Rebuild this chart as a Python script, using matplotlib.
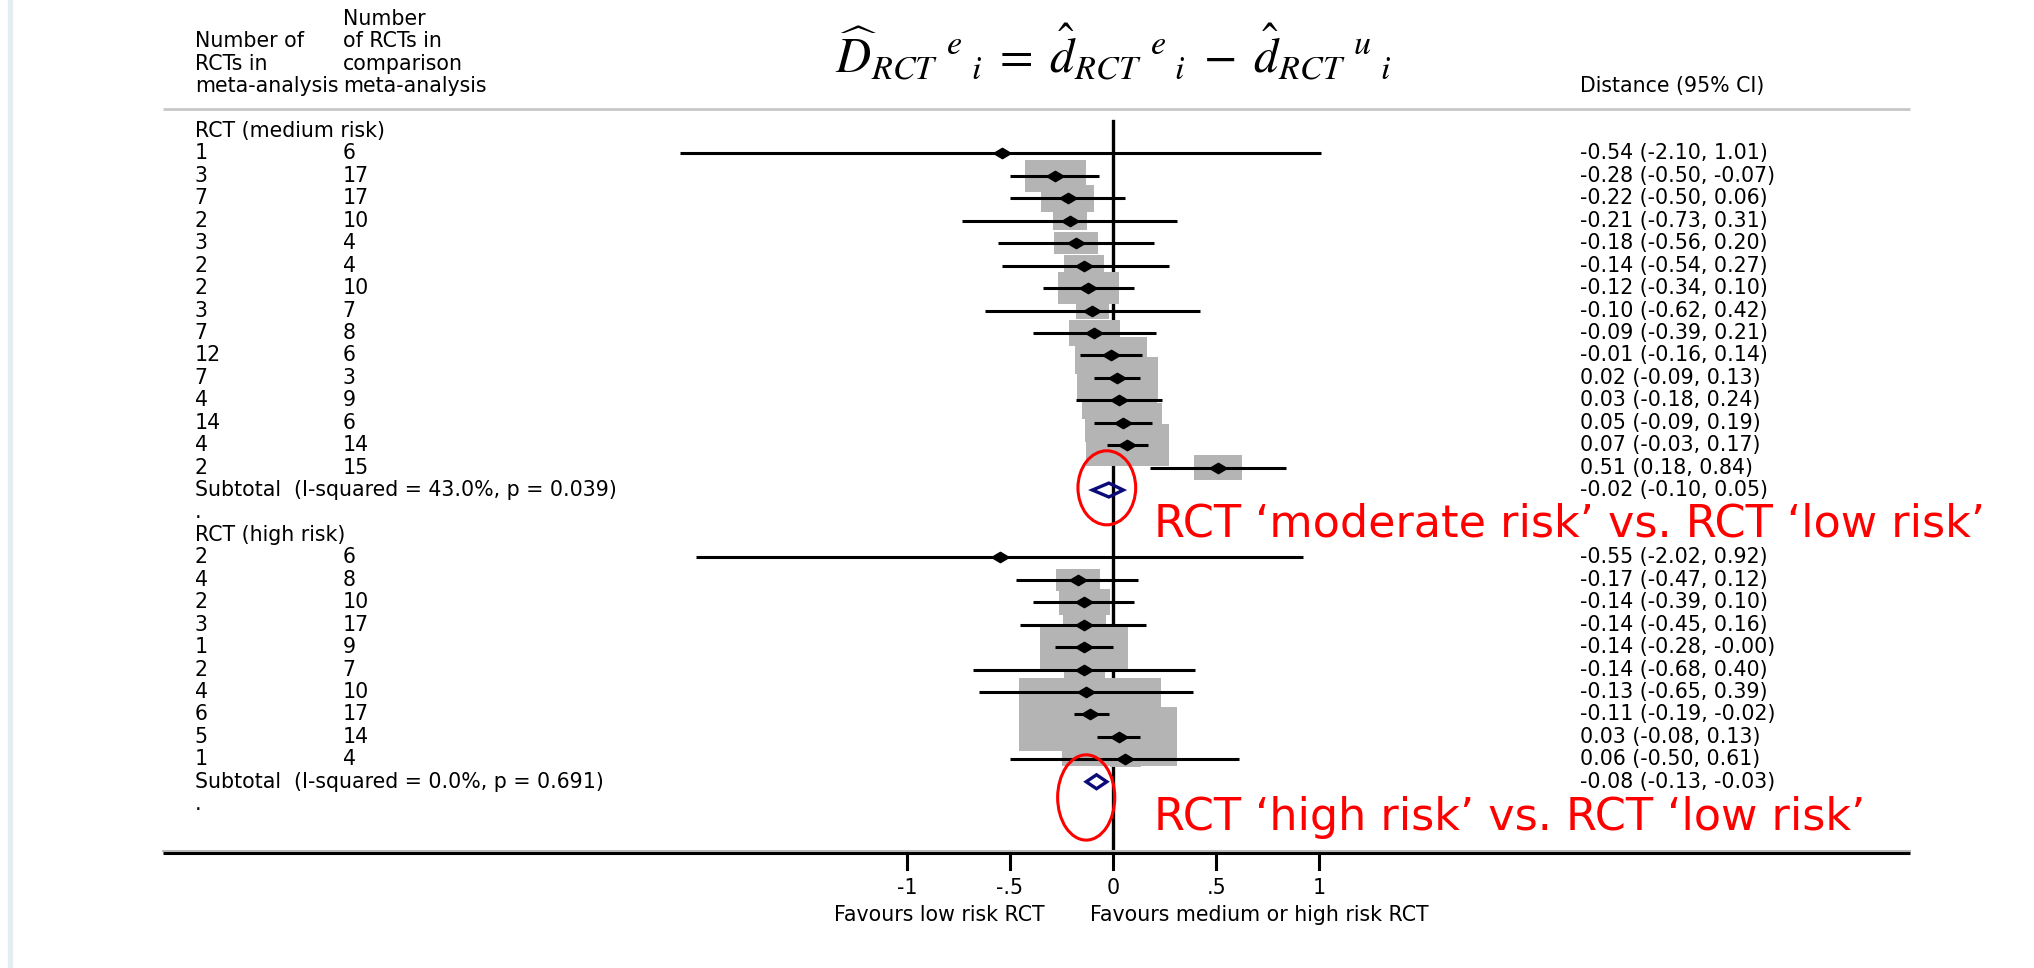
import numpy as np
import matplotlib.pyplot as plt
from matplotlib.patches import Rectangle, Ellipse, Polygon
from matplotlib.path import Path

plt.rcParams['font.family'] = ['DejaVu Sans']
plt.rcParams['mathtext.fontset'] = 'stix'

# RCT (medium risk) vs low risk
med_n_rcts = [1, 3, 7, 2, 3, 2, 2, 3, 7, 12, 7, 4, 14, 4, 2]
med_n_comp = [6, 17, 17, 10, 4, 4, 10, 7, 8, 6, 3, 9, 6, 14, 15]
med_est = [-0.54, -0.28, -0.22, -0.21, -0.18, -0.14, -0.12, -0.10, -0.09, -0.01, 0.02, 0.03, 0.05, 0.07, 0.51]
med_lo = [-2.10, -0.50, -0.50, -0.73, -0.56, -0.54, -0.34, -0.62, -0.39, -0.16, -0.09, -0.18, -0.09, -0.03, 0.18]
med_hi = [1.01, -0.07, 0.06, 0.31, 0.20, 0.27, 0.10, 0.42, 0.21, 0.14, 0.13, 0.24, 0.19, 0.17, 0.84]
med_weight = [0.2, 7.3, 5.4, 2.3, 3.7, 3.2, 7.3, 2.2, 5.0, 10.2, 12.8, 11.0, 11.6, 13.5, 4.4]
med_subtotal = [-0.02, -0.10, 0.05]
med_i2, med_p = 43.0, 0.039

# RCT (high risk) vs low risk
high_n_rcts = [2, 4, 2, 3, 1, 2, 4, 6, 5, 1]
high_n_comp = [6, 8, 10, 17, 9, 7, 10, 17, 14, 4]
high_est = [-0.55, -0.17, -0.14, -0.14, -0.14, -0.14, -0.13, -0.11, 0.03, 0.06]
high_lo = [-2.02, -0.47, -0.39, -0.45, -0.28, -0.68, -0.65, -0.19, -0.08, -0.50]
high_hi = [0.92, 0.12, 0.10, 0.16, -0.00, 0.40, 0.39, -0.02, 0.13, 0.61]
high_weight = [0.1, 3.8, 5.1, 3.6, 15.0, 3.3, 2.5, 39.3, 26.0, 1.8]
high_subtotal = [-0.08, -0.13, -0.03]
high_i2, high_p = 0.0, 0.691

x_ticks = [-1, -0.5, 0, 0.5, 1]
x_tick_labels = ['-1', '-.5', '0', '.5', '1']

# pixel scale of the reference image
PX_X = 206.2    # px per unit on the x axis
PX_ROW = 22.44  # px per table row
ZERO_PX, TOP_PX = 1113, 131

COL1, COL2, COL3 = -4.453, -3.736, 2.264
LINE_L, LINE_R = -4.606, 3.865
FS = 14.8

diamond = Path([(-1, 0), (0, 0.6), (1, 0), (0, -0.6), (-1, 0)])

fig = plt.figure(figsize=(20.34, 9.68), dpi=100)
ax = fig.add_axes([0, 0, 1, 1])
ax.set_xlim(-ZERO_PX / PX_X, (2034 - ZERO_PX) / PX_X)
ax.set_ylim((968 - TOP_PX) / PX_ROW, -TOP_PX / PX_ROW)
ax.axis('off')

# slide edge on the left
fig.patches.append(Rectangle((8 / 2034, 0), 4 / 2034, 1, transform=fig.transFigure,
                             color='#e3ecf0', zorder=0))

# header
ax.text(COL1, -4, 'Number of', fontsize=FS, va='center')
ax.text(COL1, -3, 'RCTs in', fontsize=FS, va='center')
ax.text(COL1, -2, 'meta-analysis', fontsize=FS, va='center')
for r, s in zip([-5, -4, -3, -2], ['Number', 'of RCTs in', 'comparison', 'meta-analysis']):
    ax.text(COL2, r, s, fontsize=FS, va='center')
ax.text(COL3, -2, 'Distance (95% CI)', fontsize=FS, va='center')
ax.text(0, -3.5,
        r'$\widehat{D}_{RCT}\;{}^{e}{}_{\;i}\; = \;\hat{d}_{RCT}\;{}^{e}{}_{\;i}\; - \;\hat{d}_{RCT}\;{}^{u}{}_{\;i}$',
        fontsize=35, ha='center', va='center')
ax.plot([LINE_L, LINE_R], [-1, -1], color='#c8c8c8', lw=2, solid_capstyle='butt')

AXIS_ROW = 32.18
ax.plot([0, 0], [-0.45, AXIS_ROW], color='black', lw=2.4, zorder=1)


def draw_group(row0, title, n1, n2, est, lo, hi, weight, subtotal, i2, p):
    ax.text(COL1, row0, title, fontsize=FS, va='center')
    for k in range(len(est)):
        r = row0 + 1 + k
        ax.text(COL1, r, str(n1[k]), fontsize=FS, va='center')
        ax.text(COL2, r, str(n2[k]), fontsize=FS, va='center')
        ax.text(COL3, r, f'{est[k]:.2f} ({lo[k]:.2f}, {hi[k]:.2f})', fontsize=FS, va='center')
        side = 22.6 * np.sqrt(weight[k])
        bw = side / PX_X
        bh = side / 1.95 / PX_ROW
        ax.add_patch(Rectangle((est[k] - bw / 2, r - bh / 2), bw, bh,
                               facecolor='#b4b4b4', edgecolor='none', zorder=2))
        ax.plot([lo[k], hi[k]], [r, r], color='black', lw=2.2, solid_capstyle='butt', zorder=3)
        ax.plot(est[k], r, marker=diamond, color='black', markersize=12.5, zorder=4)
    r = row0 + 1 + len(est)
    ax.text(COL1, r, f'Subtotal  (I-squared = {i2:.1f}%, p = {p:.3f})', fontsize=FS, va='center')
    ax.text(COL3, r, f'{subtotal[0]:.2f} ({subtotal[1]:.2f}, {subtotal[2]:.2f})',
            fontsize=FS, va='center')
    ax.add_patch(Polygon([(subtotal[1], r), (subtotal[0], r - 0.31),
                          (subtotal[2], r), (subtotal[0], r + 0.31)],
                         closed=True, facecolor='none', edgecolor='#0b0b7a', lw=2.4, zorder=4))
    ax.text(COL1, r + 1, '.', fontsize=FS, va='center')


draw_group(0, 'RCT (medium risk)', med_n_rcts, med_n_comp, med_est, med_lo, med_hi,
           med_weight, med_subtotal, med_i2, med_p)
draw_group(18, 'RCT (high risk)', high_n_rcts, high_n_comp, high_est, high_lo, high_hi,
           high_weight, high_subtotal, high_i2, high_p)

# x axis
ax.plot([LINE_L, LINE_R], [AXIS_ROW - 0.08, AXIS_ROW - 0.08], color='#bbbbbb', lw=1.5)
ax.plot([LINE_L, LINE_R], [AXIS_ROW, AXIS_ROW], color='black', lw=2.2, solid_capstyle='butt')
for t, lab in zip(x_ticks, x_tick_labels):
    ax.plot([t, t], [AXIS_ROW, AXIS_ROW + 0.72], color='black', lw=2.2)
    ax.text(t, 33.75, lab, fontsize=FS, ha='center', va='center')
ax.text(-0.333, 34.95, 'Favours low risk RCT', fontsize=FS, ha='right', va='center')
ax.text(-0.113, 34.95, 'Favours medium or high risk RCT', fontsize=FS, ha='left', va='center')

# red annotations
ax.add_patch(Ellipse((-0.03, 15.9), 0.28, 3.3, facecolor='none', edgecolor='#ff0000', lw=2.2, zorder=5))
ax.add_patch(Ellipse((-0.13, 29.7), 0.277, 3.8, facecolor='none', edgecolor='#ff0000', lw=2.2, zorder=5))
ax.text(0.201, 17.5, 'RCT \u2018moderate risk\u2019 vs. RCT \u2018low risk\u2019', color='#ff0000',
        fontsize=32, va='center')
ax.text(0.201, 30.6, 'RCT \u2018high risk\u2019 vs. RCT \u2018low risk\u2019', color='#ff0000',
        fontsize=32, va='center')

fig.savefig('out.png', dpi=100)
